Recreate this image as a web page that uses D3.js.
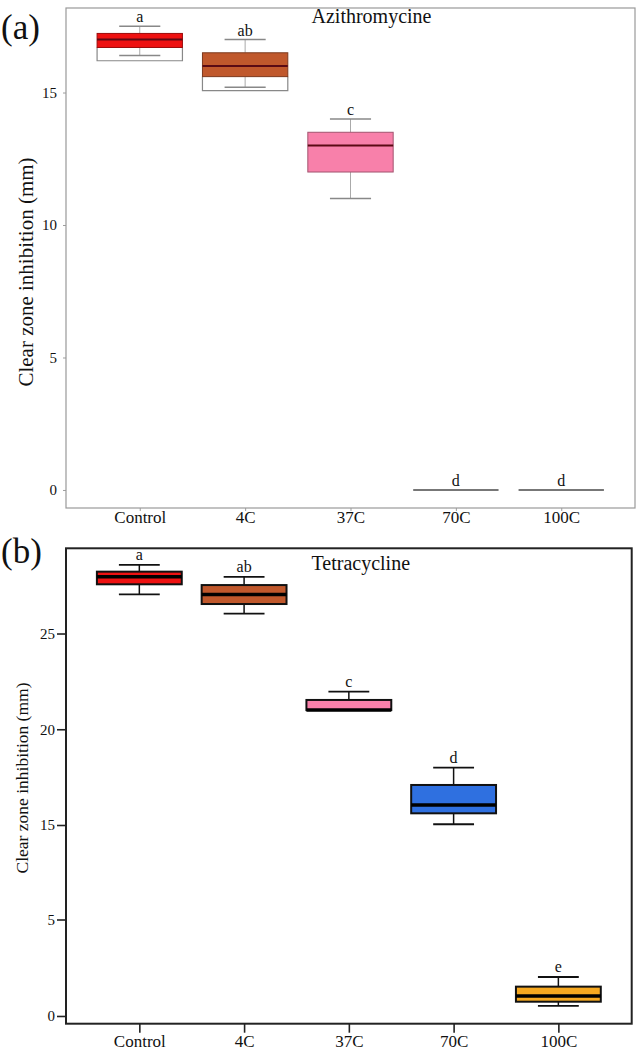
<!DOCTYPE html>
<html><head><meta charset="utf-8">
<script src="https://cdn.jsdelivr.net/npm/d3@7"></script>
<style>body{margin:0;background:#fff}svg{display:block}svg text{font-family:"Liberation Serif","Times New Roman",serif !important}</style>
</head><body>
<svg id="c" width="641" height="1052"></svg>
<script>
const categories = ["Control","4C","37C","70C","100C"];
const fills = ["#ee1111","#c0582c","#f880aa","#2f70e0","#f6a820"];
// Panel (a) Azithromycine
const azMin = [16.4, 15.2, 11.0, 0, 0];
const azQ1  = [16.7, 15.6, 12.0, 0, 0];
const azMed = [17.0, 16.0, 13.0, 0, 0];
const azQ3  = [17.23, 16.5, 13.5, 0, 0];
const azMax = [17.5, 17.0, 14.0, 0, 0];
const azGhost = [16.2, 15.07, null, null, null];
const azLetters = ["a","ab","c","d","d"];
const azTicks = [0,5,10,15];
// Panel (b) Tetracycline
const teMin = [27.04, 26.04, 21.0, 15.04, 0.52];
const teQ1  = [27.57, 26.54, 21.0, 15.61, 0.74];
const teMed = [27.97, 27.04, 21.0, 16.04, 1.04];
const teQ3  = [28.23, 27.53, 21.53, 17.09, 1.52];
const teMax = [28.58, 27.96, 21.96, 18.0, 2.02];
const teLetters = ["a","ab","c","d","e"];
const teTicks = [0,5,15,20,25];

const FONT = "'Liberation Serif', 'Times New Roman', serif";
const svg = d3.select("#c");

function panel(o){
  const g = svg.append("g");
  const x = d3.scalePoint().domain(categories).range([o.x0,o.x1]).padding(0.7);
  const y = d3.scaleLinear().domain(o.ydom).range(o.yrng);
  const bw = x.step()*0.81, cw = x.step()*0.39;
  g.append("rect").attr("x",o.x0).attr("y",o.y1).attr("width",o.x1-o.x0).attr("height",o.y0-o.y1)
    .attr("fill","none").attr("stroke",o.frame).attr("stroke-width",o.fw);
  const ya = g.append("g").attr("transform",`translate(${o.x0},0)`)
    .call(d3.axisLeft(y).tickValues(o.ticks).tickSize(o.tick).tickSizeOuter(0).tickPadding(o.tpad));
  ya.attr("font-family",FONT);
  ya.select(".domain").remove();
  ya.selectAll("line").attr("stroke",o.frame).attr("stroke-width",o.fw*0.8);
  ya.selectAll("text").style("font-family",FONT).attr("font-size",o.tfs).attr("fill","#111");
  const xa = g.append("g").attr("transform",`translate(0,${o.y0})`)
    .call(d3.axisBottom(x).tickSize(o.xtick).tickSizeOuter(0));
  xa.attr("font-family",FONT);
  xa.select(".domain").remove();
  xa.selectAll("line").attr("stroke",o.frame).attr("stroke-width",o.fw*0.8);
  xa.selectAll("text").style("font-family",FONT).attr("font-size",17).attr("fill","#111")
    .attr("dy",0).attr("y",o.xly);
  d3.range(categories.length).forEach(i=>{
    const cx = x(categories[i]);
    if (o.q3[i]===o.q1[i] && o.max[i]===o.min[i] && o.q3[i]===o.med[i]) {
      g.append("line").attr("x1",cx-bw/2).attr("x2",cx+bw/2).attr("y1",y(o.med[i])).attr("y2",y(o.med[i]))
        .attr("stroke","#777").attr("stroke-width",2);
    } else {
      if (o.ghost && o.ghost[i]!=null){
        g.append("path").attr("d",`M${cx-bw/2},${y(o.q1[i])}V${y(o.ghost[i])}H${cx+bw/2}V${y(o.q1[i])}`)
          .attr("fill","none").attr("stroke","#888").attr("stroke-width",1.2);
      }
      g.append("line").attr("x1",cx).attr("x2",cx).attr("y1",y(o.max[i])).attr("y2",y(o.q3[i]))
        .attr("stroke",o.wc).attr("stroke-width",o.ww);
      g.append("line").attr("x1",cx).attr("x2",cx).attr("y1",y(o.min[i])).attr("y2",y(o.q1[i]))
        .attr("stroke",o.wc).attr("stroke-width",o.ww);
      [o.max[i],o.min[i]].forEach(v=>{
        if (v===o.q1[i]) return;
        g.append("line").attr("x1",cx-cw/2).attr("x2",cx+cw/2).attr("y1",y(v)).attr("y2",y(v))
          .attr("stroke",o.cc).attr("stroke-width",o.cwid);
      });
      g.append("rect").attr("x",cx-bw/2).attr("width",bw).attr("y",y(o.q3[i])).attr("height",y(o.q1[i])-y(o.q3[i]))
        .attr("fill",fills[i]).attr("stroke",o.bs?o.bs:d3.color(fills[i]).darker(1.2)).attr("stroke-width",o.bsw);
      g.append("line").attr("x1",cx-bw/2).attr("x2",cx+bw/2).attr("y1",y(o.med[i])).attr("y2",y(o.med[i]))
        .attr("stroke",o.mc).attr("stroke-width",o.mw);
    }
    g.append("text").attr("x",cx).attr("y",y(o.max[i])-o.lgap).attr("text-anchor","middle")
      .style("font-family",FONT).attr("font-size",16).attr("fill","#111").text(o.letters[i]);
  });
  g.append("text").attr("x",311.5).attr("y",o.titleY).style("font-family",FONT).attr("font-size",20).attr("fill","#111").text(o.title);
  g.append("text").attr("x",1).attr("y",o.tagY).style("font-family",FONT).attr("font-size",35).attr("fill","#111").text(o.tag);
  g.append("text").attr("transform",`translate(${o.ylx},${o.yly}) rotate(-90)`).attr("text-anchor","middle")
    .style("font-family",FONT).attr("font-size",o.ylfs).attr("fill","#111").text("Clear zone inhibition (mm)");
}

panel({x0:66,x1:635,y0:508,y1:8,ydom:[-0.68,18.19],yrng:[508,8],frame:"#999",fw:1.2,
  ticks:azTicks,tick:3,tpad:6,tfs:15,xtick:3,xly:14.5,
  min:azMin,q1:azQ1,med:azMed,q3:azQ3,max:azMax,ghost:azGhost,letters:azLetters,
  wc:"#aaa",ww:1,cc:"#888",cwid:1.5,bsw:1,mc:"#5a0a14",mw:2,lgap:4,
  title:"Azithromycine",titleY:23,tag:"(a)",tagY:39,ylx:33,yly:272,ylfs:21});

panel({x0:66,x1:631.7,y0:1023.7,y1:548.3,ydom:[-0.4,5,15,29.45],yrng:[1023.7,919.5,825,548.3],frame:"#222",fw:2,
  ticks:teTicks,tick:9,tpad:2,tfs:15,xtick:9,xly:23,
  min:teMin,q1:teQ1,med:teMed,q3:teQ3,max:teMax,ghost:null,letters:teLetters,
  wc:"#111",ww:1.5,cc:"#111",cwid:1.8,bs:"#111",bsw:2,mc:"#000",mw:3.5,lgap:5,
  title:"Tetracycline",titleY:570,tag:"(b)",tagY:563,ylx:28,yly:778,ylfs:17.5});
</script>
</body></html>
